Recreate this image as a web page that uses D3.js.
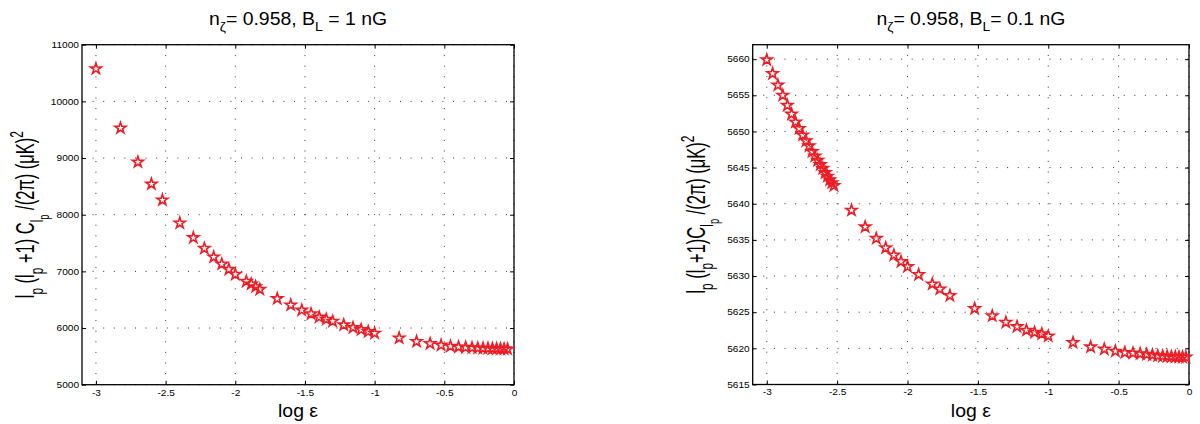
<!DOCTYPE html>
<html><head><meta charset="utf-8">
<script src="https://cdn.jsdelivr.net/npm/d3@7"></script>
<style>
html,body{margin:0;padding:0;background:#fff;}
svg{display:block;}
text{font-family:"Liberation Sans",Arial,Helvetica,sans-serif;fill:#000;}
</style></head><body>
<svg id="chart" width="1200" height="424"></svg>
<script>
// ---------- data ----------
const xTicks = [-3, -2.5, -2, -1.5, -1, -0.5, 0];
const xTickLabels = ["-3", "-2.5", "-2", "-1.5", "-1", "-0.5", "0"];

const yTicksLeft = [5000, 6000, 7000, 8000, 9000, 10000, 11000];
const yTickLabelsLeft = ["5000", "6000", "7000", "8000", "9000", "10000", "11000"];
const yTicksRight = [5615, 5620, 5625, 5630, 5635, 5640, 5645, 5650, 5655, 5660];
const yTickLabelsRight = ["5615", "5620", "5625", "5630", "5635", "5640", "5645", "5650", "5655", "5660"];

const logEpsLeft = [-3, -2.824, -2.699, -2.602, -2.523, -2.398, -2.301, -2.222, -2.155, -2.097, -2.046, -2.0,
  -1.921, -1.886, -1.854, -1.824, -1.699, -1.602, -1.523, -1.456, -1.398, -1.347, -1.301, -1.222, -1.155,
  -1.097, -1.046, -1.0, -0.824, -0.699, -0.602, -0.523, -0.456, -0.398, -0.347, -0.301, -0.260, -0.222,
  -0.187, -0.155, -0.125, -0.097, -0.071, -0.046];
const clLeft = [10576, 9529, 8929, 8541, 8259, 7853, 7594, 7406, 7253, 7129, 7035, 6947,
  6824, 6776, 6729, 6682, 6518, 6406, 6315, 6250, 6192, 6154, 6119, 6055, 6007,
  5971, 5936, 5908, 5824, 5762, 5725, 5697, 5678, 5665, 5658, 5652, 5647, 5643,
  5640, 5637, 5634, 5632, 5630, 5629];

const logEpsRight = [-3, -2.959, -2.921, -2.886, -2.854, -2.824, -2.796, -2.770, -2.745, -2.721,
  -2.699, -2.678, -2.658, -2.638, -2.620, -2.602, -2.585, -2.569, -2.553, -2.538, -2.523,
  -2.398, -2.301, -2.222, -2.155, -2.097, -2.046, -2.0, -1.921, -1.824, -1.770, -1.699,
  -1.523, -1.398, -1.301, -1.222, -1.155, -1.097, -1.046, -1.0,
  -0.824, -0.699, -0.602, -0.523, -0.456, -0.398, -0.347, -0.301,
  -0.260, -0.222, -0.187, -0.155, -0.125, -0.097, -0.071, -0.046, -0.022];
const clRight = [5659.9, 5658.0, 5656.4, 5655.0, 5653.6, 5652.4, 5651.3, 5650.4, 5649.5, 5648.7,
  5648.0, 5647.2, 5646.6, 5646.0, 5645.4, 5644.9, 5644.3, 5643.8, 5643.3, 5642.9, 5642.5,
  5639.1, 5636.8, 5635.2, 5633.9, 5632.9, 5632.0, 5631.3, 5630.2, 5628.9, 5628.2, 5627.3,
  5625.5, 5624.5, 5623.6, 5623.0, 5622.5, 5622.2, 5622.0, 5621.7,
  5620.8, 5620.2, 5619.9, 5619.6, 5619.4, 5619.35, 5619.25, 5619.17,
  5619.07, 5618.97, 5618.93, 5618.89, 5618.84, 5618.82, 5618.80, 5618.79, 5618.78];

// rich text parts: [text, level]  level 0 normal, 1 sub, 2 sub-sub, -1 sup
const titleLeft = [["n",0],["\u03b6",1],["= 0.958, B",0],["L",1],[" = 1 nG",0]];
const titleRight = [["n",0],["\u03b6",1],["= 0.958, B",0],["L",1],["= 0.1 nG",0]];
const yLabelLeft = [["l",0],["p",1],[" (l",0],["p",1],[" +1) C",0],["l",1],["p",2],[" /(2\u03c0) (\u03bcK)",0],["2",-1]];
const yLabelRight = [["l",0],["p",1],[" (l",0],["p",1],["+1)C",0],["l",1],["p",2],[" /(2\u03c0) (\u03bcK)",0],["2",-1]];
const xLabel = [["log \u03b5",0]];

// ---------- drawing ----------
const svg = d3.select("#chart");
const RED = "#ee1c25";

function rich(textSel, parts, base) {
  const size = {0: base, 1: base * 0.72, 2: base * 0.56, "-1": base * 0.72};
  const off = {0: 0, 1: base * 0.33, 2: base * 0.55, "-1": -base * 0.42};
  let cur = 0;
  parts.forEach(([t, lv]) => {
    textSel.append("tspan")
      .attr("font-size", size[lv])
      .attr("dy", off[lv] - cur)
      .text(t);
    cur = off[lv];
  });
}

function panel(cfg) {
  const x = d3.scaleLinear().domain([-3.1, 0]).range([cfg.left, cfg.right]);
  const y = d3.scaleLinear().domain(cfg.yDomain).range([cfg.bottom, cfg.top]);
  const g = svg.append("g");

  // grid (dotted)
  const grid = g.append("g").attr("stroke", "#333").attr("stroke-width", 1)
    .attr("stroke-dasharray", "1,9.6").attr("fill", "none");
  cfg.xTicks.forEach(v => grid.append("line")
    .attr("x1", x(v)).attr("x2", x(v)).attr("y1", cfg.bottom).attr("y2", cfg.top));
  cfg.yTicks.forEach(v => grid.append("line")
    .attr("x1", cfg.left).attr("x2", cfg.right).attr("y1", y(v)).attr("y2", y(v)));

  const sx = 1.22; // horizontal stretch of tick labels
  const ab = g.append("g").attr("transform", `translate(0,${cfg.bottom})`)
    .call(d3.axisBottom(x).tickValues(cfg.xTicks).tickFormat((d, i) => cfg.xLabels[i])
      .tickSizeInner(-4).tickSizeOuter(0).tickPadding(5));
  const al = g.append("g").attr("transform", `translate(${cfg.left},0)`)
    .call(d3.axisLeft(y).tickValues(cfg.yTicks).tickFormat((d, i) => cfg.yLabels[i])
      .tickSizeInner(-4).tickSizeOuter(0).tickPadding(3));
  g.append("g").attr("transform", `translate(0,${cfg.top})`)
    .call(d3.axisTop(x).tickValues(cfg.xTicks).tickFormat("").tickSizeInner(-4).tickSizeOuter(0));
  g.append("g").attr("transform", `translate(${cfg.right},0)`)
    .call(d3.axisRight(y).tickValues(cfg.yTicks).tickFormat("").tickSizeInner(-4).tickSizeOuter(0));

  g.selectAll(".domain").remove();
  g.selectAll(".tick line").attr("stroke", "#000").attr("stroke-width", 1);
  ab.selectAll("text").attr("font-size", 8.3).attr("font-family", "Liberation Sans, Arial, sans-serif")
    .attr("transform", `scale(${sx},1)`);
  al.selectAll("text").attr("font-size", 8.3).attr("font-family", "Liberation Sans, Arial, sans-serif")
    .attr("x", -3 / sx).attr("transform", `scale(${sx},1)`);

  g.append("rect").attr("x", cfg.left).attr("y", cfg.top)
    .attr("width", cfg.right - cfg.left).attr("height", cfg.bottom - cfg.top)
    .attr("fill", "none").attr("stroke", "#000").attr("stroke-width", 1.3);

  const star = d3.symbol().type(d3.symbolStar).size(38);
  g.append("g").selectAll("path").data(cfg.xs.map((v, i) => [v, cfg.ys[i]])).join("path")
    .attr("d", star)
    .attr("transform", d => `translate(${x(d[0])},${y(d[1])})`)
    .attr("fill", "none").attr("stroke", RED).attr("stroke-width", 1.6)
    .attr("stroke-linejoin", "miter");

  const cx = (cfg.left + cfg.right) / 2;
  const tg = g.append("g").attr("transform", `translate(${cx},25) scale(1.08,1)`);
  rich(tg.append("text").attr("text-anchor", "middle"), cfg.title, 18);
  const xg = g.append("g").attr("transform", `translate(${cx},417) scale(1.08,1)`);
  rich(xg.append("text").attr("text-anchor", "middle"), xLabel, 18);
  const yg = g.append("g").attr("transform",
    `translate(${cfg.yLabelX},${(cfg.top + cfg.bottom) / 2}) scale(1.6,1) rotate(-90)`);
  rich(yg.append("text").attr("text-anchor", "middle"), cfg.yLabel, 16.5);
}

panel({left: 82, right: 514, top: 44.7, bottom: 384.7, yDomain: [5000, 11000],
  xTicks: xTicks, xLabels: xTickLabels, yTicks: yTicksLeft, yLabels: yTickLabelsLeft,
  xs: logEpsLeft, ys: clLeft, title: titleLeft, yLabel: yLabelLeft, yLabelX: 34});
panel({left: 752.7, right: 1189, top: 44.7, bottom: 384.5, yDomain: [5615, 5662],
  xTicks: xTicks, xLabels: xTickLabels, yTicks: yTicksRight, yLabels: yTickLabelsRight,
  xs: logEpsRight, ys: clRight, title: titleRight, yLabel: yLabelRight, yLabelX: 704.7});
</script>
</body></html>
